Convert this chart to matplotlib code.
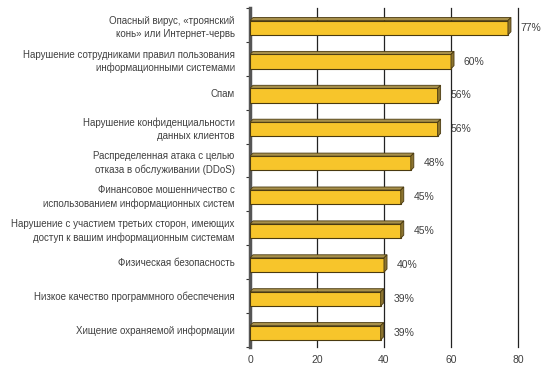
import numpy as np
import matplotlib
matplotlib.use("Agg")
import matplotlib.pyplot as plt
from matplotlib.patches import Polygon

plt.rcParams["font.family"] = ["Liberation Sans", "DejaVu Sans"]

categories = [
    "Опасный вирус, «троянский\nконь» или Интернет-червь",
    "Нарушение сотрудниками правил пользования\nинформационными системами",
    "Спам",
    "Нарушение конфиденциальности\nданных клиентов",
    "Распределенная атака с целью\nотказа в обслуживании (DDoS)",
    "Финансовое мошенничество с\nиспользованием информационных систем",
    "Нарушение с участием третьих сторон, имеющих\nдоступ к вашим информационным системам",
    "Физическая безопасность",
    "Низкое качество программного обеспечения",
    "Хищение охраняемой информации",
]
values = [77, 60, 56, 56, 48, 45, 45, 40, 39, 39]
xticks = [0, 20, 40, 60, 80]

front = "#F7C52B"
top_c = "#A8904A"
side_c = "#8C7430"
edge = "#4A3A10"
txt = "#404040"

fig = plt.figure(figsize=(5.56, 3.73), dpi=100)
ax = fig.add_axes([250 / 556, 1 - 347 / 373, 268 / 556, 339 / 373])

n = len(values)
ys = np.arange(n)
ax.set_xlim(0, 80)
ax.set_ylim(n - 0.5, -0.5)

# back-wall gridlines
for xv in xticks[1:]:
    ax.axvline(xv, color="#222222", lw=0.9, zorder=0, clip_on=False)

h = 0.42
dx, dy = 0.9, 0.09  # 3D depth offset in data units
for y, v in zip(ys, values):
    yc = y + 0.08
    ax.barh(yc, v, height=h, color=front, edgecolor=edge, lw=0.8, zorder=3)
    top = Polygon([(0, yc - h / 2), (v, yc - h / 2), (v + dx, yc - h / 2 - dy), (dx, yc - h / 2 - dy)],
                  closed=True, facecolor=top_c, edgecolor=edge, lw=0.6, zorder=3)
    side = Polygon([(v, yc - h / 2), (v + dx, yc - h / 2 - dy), (v + dx, yc + h / 2 - dy), (v, yc + h / 2)],
                   closed=True, facecolor=side_c, edgecolor=edge, lw=0.6, zorder=3)
    ax.add_patch(top)
    ax.add_patch(side)
    ax.text(v + 3.8, yc, f"{v}%", va="center", ha="left", fontsize=7.5, color=txt)

ax.set_yticks(ys)
ax.set_yticklabels(categories, fontsize=7, color=txt, linespacing=1.35)
ax.set_yticks(np.arange(n + 1) - 0.5, minor=True)
ax.tick_params(axis="y", which="major", length=0, pad=11)
ax.tick_params(axis="y", which="minor", length=3, width=0.8, color="#333333")
ax.set_xticks(xticks)
ax.set_xticklabels([str(t) for t in xticks], fontsize=7.5, color=txt)
ax.tick_params(axis="x", length=0, pad=6)

for s in ["top", "right", "bottom"]:
    ax.spines[s].set_visible(False)
ax.spines["left"].set_color("#555555")
ax.spines["left"].set_linewidth(2.5)

fig.savefig("out.png", dpi=100)
